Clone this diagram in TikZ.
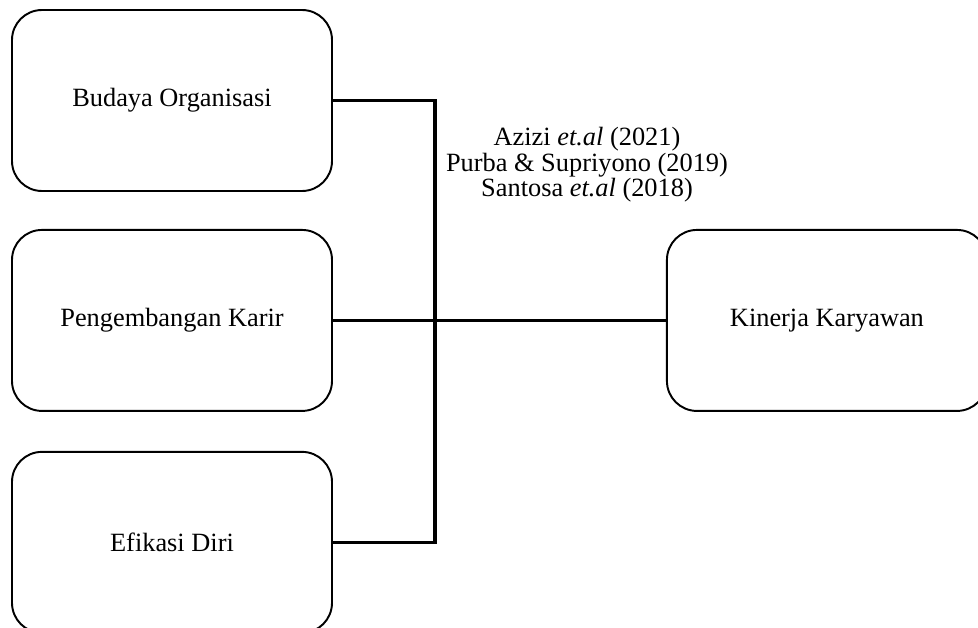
\documentclass[tikz,border=0pt]{standalone}
\usepackage{fontspec}
\setmainfont{Liberation Serif}
\usepackage{tikz}
\usetikzlibrary{positioning,calc}

\begin{document}
\begin{tikzpicture}
        % Style definitions
        \tikzset{
            varbox/.style={draw, fill=white, rectangle, minimum height=3.62cm, minimum width=6.4cm, align=center, line width=1.1pt, rounded corners=0.6cm, font=\fontsize{15}{17}\selectfont},
            bus/.style={line width=1.9pt},
            link/.style={line width=1.6pt}
        }
        \useasboundingbox (0,0) rectangle (19.56,-12.56);

        % Independent variables
        \node [varbox] (budaya) at (3.44,-2.01) {Budaya Organisasi};
        \node [varbox, below=0.74cm of budaya] (karir) {Pengembangan Karir};
        \node [varbox, below=0.78cm of karir] (efikasi) {Efikasi Diri};

        % Dependent variable
        \node [varbox, right=6.66cm of karir] (kinerja) {Kinerja Karyawan};

        % Bus line
        \coordinate (bustop) at ($(budaya.east) + (2.04,0)$);
        \draw [bus] (budaya.east) -- (bustop) |- (efikasi.east);
        \draw [link] (karir.east) -- (kinerja.west);

        % References
        \node [align=center, font=\fontsize{15}{14.6}\selectfont] (refs) at (11.74,-3.3) {Azizi \textit{et.al} (2021)\\Purba \& Supriyono (2019)\\Santosa \textit{et.al} (2018)};
    \end{tikzpicture}
\end{document}
